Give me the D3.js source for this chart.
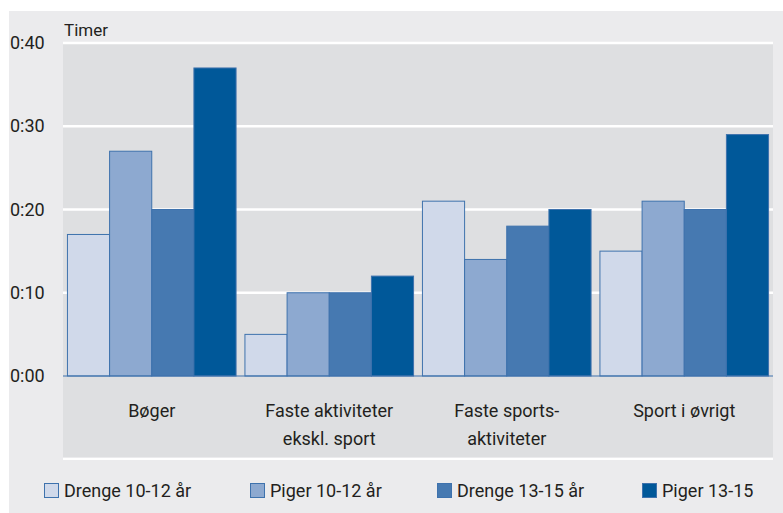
<!DOCTYPE html>
<html>
<head>
<meta charset="utf-8">
<script src="https://cdn.jsdelivr.net/npm/d3@7"></script>
<style>
  body { margin: 0; background: #fff; }
  svg { display: block; font-family: Roboto, "Open Sans", sans-serif; }
</style>
</head>
<body>
<svg id="chart"></svg>
<script>
var categories = [["Bøger"], ["Faste aktiviteter", "ekskl. sport"], ["Faste sports-", "aktiviteter"], ["Sport i øvrigt"]];
var seriesNames = ["Drenge 10-12 år", "Piger 10-12 år", "Drenge 13-15 år", "Piger 13-15"];
// minutter
var drenge1012 = [17, 5, 21, 15];
var piger1012 = [27, 10, 14, 21];
var drenge1315 = [20, 10, 18, 20];
var piger1315 = [37, 12, 20, 29];
var yTicks = [0, 10, 20, 30, 40];
var yTickLabels = ["0:00", "0:10", "0:20", "0:30", "0:40"];

var series = [drenge1012, piger1012, drenge1315, piger1315];
var colors = ["#d0d9ea", "#8da9d0", "#4679b1", "#005899"];
var stroke = "#3e72ad";

var W = 783, H = 513;
var plotLeft = 63, plotRight = 773, plotTop = 43, zeroY = 376;

var svg = d3.select("#chart").attr("width", W).attr("height", H);

svg.append("rect").attr("x", 9).attr("y", 11).attr("width", W - 9).attr("height", H - 11).style("fill", "#ebebed");
svg.append("rect").attr("x", plotLeft).attr("y", plotTop).attr("width", plotRight - plotLeft).attr("height", 457 - plotTop).style("fill", "#dedfe1");
svg.append("line").attr("x1", plotLeft).attr("x2", plotRight).attr("y1", 459).attr("y2", 459)
    .style("stroke", "#fff").style("stroke-width", 2);

var y = d3.scaleLinear().domain([0, 40]).range([zeroY, plotTop]);
var x0 = d3.scaleBand().domain(d3.range(categories.length)).range([plotLeft, plotRight]).paddingInner(0.05).paddingOuter(0.025);
var x1 = d3.scaleBand().domain(d3.range(series.length)).range([0, x0.bandwidth()]);

// gitterlinjer
svg.selectAll(".grid")
    .data(yTicks.filter(function(d){ return d > 0; }))
    .enter().append("line")
    .attr("x1", plotLeft).attr("x2", plotRight)
    .attr("y1", function(d){ return y(d); })
    .attr("y2", function(d){ return y(d); })
    .style("stroke", "#fff").style("stroke-width", 2.5);

svg.selectAll(".ytick")
    .data(yTicks)
    .enter().append("text")
    .attr("x", 10)
    .attr("y", function(d){ return y(d) + 6; })
    .style("font-size", "18px").style("fill", "#231f20")
    .text(function(d, i){ return yTickLabels[i]; });

svg.append("text").attr("x", 64).attr("y", 36)
    .style("font-size", "17px").style("fill", "#231f20").text("Timer");

var groups = svg.selectAll(".group")
    .data(categories)
    .enter().append("g")
    .attr("transform", function(d, i){ return "translate(" + x0(i) + ",0)"; });

groups.selectAll("rect")
    .data(function(d, i){ return series.map(function(s){ return s[i]; }); })
    .enter().append("rect")
    .attr("x", function(d, j){ return x1(j); })
    .attr("width", x1.bandwidth())
    .attr("y", function(d){ return y(d); })
    .attr("height", function(d){ return zeroY - y(d); })
    .style("fill", function(d, j){ return colors[j]; })
    .style("stroke", stroke).style("stroke-width", 1);

svg.append("line").attr("x1", plotLeft).attr("x2", plotRight).attr("y1", zeroY).attr("y2", zeroY)
    .style("stroke", stroke).style("stroke-width", 1.2);

groups.append("text")
    .attr("x", x0.bandwidth() / 2)
    .attr("y", 417)
    .attr("text-anchor", "middle")
    .style("font-size", "18px").style("fill", "#231f20")
    .selectAll("tspan")
    .data(function(d){ return d; })
    .enter().append("tspan")
    .attr("x", x0.bandwidth() / 2)
    .attr("dy", function(d, i){ return i == 0 ? 0 : 28; })
    .text(function(d){ return d; });

var legendX = [44, 250, 437, 642];
var legend = svg.selectAll(".legend")
    .data(seriesNames)
    .enter().append("g")
    .attr("transform", function(d, i){ return "translate(" + legendX[i] + ",483)"; });
legend.append("rect")
    .attr("x", 0.5).attr("y", 0.5).attr("width", 14).attr("height", 14)
    .style("fill", function(d, i){ return colors[i]; })
    .style("stroke", stroke);
legend.append("text")
    .attr("x", 20).attr("y", 14)
    .style("font-size", "18px").style("fill", "#231f20")
    .text(function(d){ return d; });
</script>
</body>
</html>
